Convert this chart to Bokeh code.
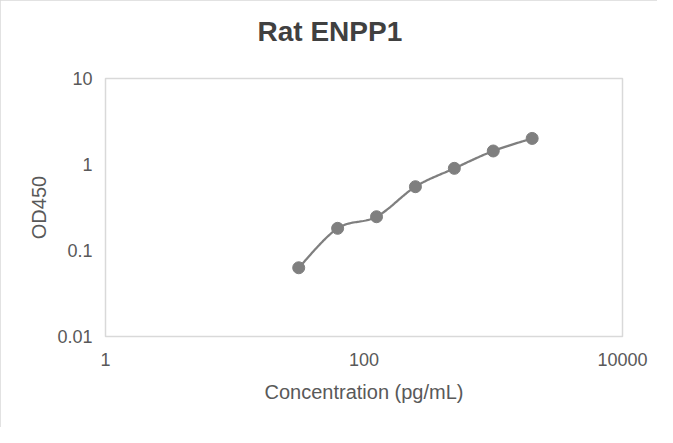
import numpy as np
from bokeh.plotting import figure
from bokeh.models import FixedTicker, ColumnDataSource, Title
from bokeh.embed import file_html
from bokeh.resources import INLINE

# ---- data ----
concentration = [31.25, 62.5, 125, 250, 500, 1000, 2000]
od450 = [0.063, 0.181, 0.247, 0.552, 0.902, 1.436, 2.01]
x_ticks = [1, 100, 10000]
x_tick_labels = ["1", "100", "10000"]
y_ticks = [0.01, 0.1, 1, 10]
y_tick_labels = ["0.01", "0.1", "1", "10"]
title_text = "Rat ENPP1"
x_title = "Concentration (pg/mL)"
y_title = "OD450"

GRAY = "#7f7f7f"
TXT = "#595959"

# smoothed line (Excel-style Catmull-Rom Bezier) in log space
lx = np.log10(np.array(concentration, dtype=float))
ly = np.log10(np.array(od450, dtype=float))
n = len(lx)
sx, sy = [], []
t = np.linspace(0, 1, 30)
for i in range(n - 1):
    p0 = np.array([lx[max(i - 1, 0)], ly[max(i - 1, 0)]])
    p1 = np.array([lx[i], ly[i]])
    p2 = np.array([lx[i + 1], ly[i + 1]])
    p3 = np.array([lx[min(i + 2, n - 1)], ly[min(i + 2, n - 1)]])
    c1 = p1 + (p2 - p0) / 6.0
    c2 = p2 - (p3 - p1) / 6.0
    for tt in (t if i == 0 else t[1:]):
        b = ((1 - tt) ** 3) * p1 + 3 * ((1 - tt) ** 2) * tt * c1 + 3 * (1 - tt) * tt ** 2 * c2 + tt ** 3 * p2
        sx.append(10 ** b[0])
        sy.append(10 ** b[1])

p = figure(width=657, height=427, x_axis_type="log", y_axis_type="log",
           x_range=(x_ticks[0], x_ticks[-1]), y_range=(y_ticks[0], y_ticks[-1]),
           output_backend="svg", toolbar_location=None,
           min_border_left=105, min_border_right=35, min_border_top=78, min_border_bottom=91,
           styles={"outline": "2px solid #d9d9d9", "outline-offset": "-2px"})

# spacer between the frame and the title, then the title itself
p.add_layout(Title(text=" ", text_font_size="2px", standoff=26), "above")
p.add_layout(Title(text=title_text, align="left", offset=152,
                   text_font="Liberation Sans", text_font_size="28px",
                   text_font_style="bold", text_color="#404040", standoff=0,
                   vertical_align="top"), "above")

p.outline_line_color = "#d9d9d9"
p.outline_line_width = 1.5
p.xgrid.grid_line_color = None
p.ygrid.grid_line_color = None

p.xaxis.ticker = FixedTicker(ticks=x_ticks, minor_ticks=[])
p.yaxis.ticker = FixedTicker(ticks=y_ticks, minor_ticks=[])
p.xaxis.major_label_overrides = {v: s for v, s in zip(x_ticks, x_tick_labels)}
p.yaxis.major_label_overrides = {v: s for v, s in zip(y_ticks, y_tick_labels)}

for ax in (p.xaxis, p.yaxis):
    ax.axis_line_color = None
    ax.major_tick_line_color = None
    ax.minor_tick_line_color = None
    ax.major_label_text_font = "Liberation Sans"
    ax.major_label_text_font_size = "18px"
    ax.major_label_text_color = TXT
    ax.axis_label_text_font = "Liberation Sans"
    ax.axis_label_text_font_size = "20px"
    ax.axis_label_text_font_style = "normal"
    ax.axis_label_text_color = TXT

p.xaxis.axis_label = x_title
p.yaxis.axis_label = y_title
p.xaxis.major_label_standoff = 10
p.yaxis.major_label_standoff = 7
p.xaxis.axis_label_standoff = 12
p.yaxis.axis_label_standoff = 4

p.line(sx, sy, line_color=GRAY, line_width=2.25)
src = ColumnDataSource(dict(x=concentration, y=od450))
p.scatter("x", "y", source=src, size=12, fill_color=GRAY, line_color=GRAY)

open("out.html", "w").write(file_html(p, INLINE))
